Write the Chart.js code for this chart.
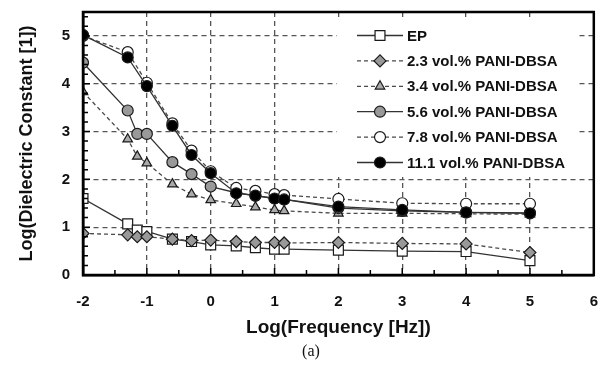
<!DOCTYPE html>
<html>
<head>
<meta charset="utf-8">
<script src="https://cdn.jsdelivr.net/npm/chart.js@4.4.1/dist/chart.umd.min.js"></script>
<style>
  html,body{margin:0;padding:0;background:#fff;}
  #wrap{position:relative;width:602px;height:372px;}
  #cap{position:absolute;left:286px;width:50px;top:342px;text-align:center;
       font:16px "Liberation Serif","Times New Roman",serif;color:#111;}
</style>
</head>
<body>
<div id="wrap">
  <canvas id="c" width="602" height="372"></canvas>
  <div id="cap">(a)</div>
</div>
<script>
// log10 of frequency; the two highest loadings were not measured at -1.15
const logF_a = [-2, -1.3, -1.15, -1, -0.6, -0.3, 0, 0.4, 0.7, 1, 1.15, 2, 3, 4, 5];
const logF_b = [-2, -1.3, -1, -0.6, -0.3, 0, 0.4, 0.7, 1, 1.15, 2, 3, 4, 5];

const ep     = [1.60, 1.07, 0.94, 0.91, 0.75, 0.70, 0.63, 0.61, 0.57, 0.54, 0.54, 0.52, 0.50, 0.49, 0.30];
const pani23 = [0.87, 0.84, 0.80, 0.80, 0.75, 0.72, 0.73, 0.70, 0.68, 0.68, 0.67, 0.68, 0.66, 0.65, 0.47];
const pani34 = [3.83, 2.84, 2.48, 2.34, 1.90, 1.69, 1.57, 1.49, 1.42, 1.36, 1.34, 1.29, 1.29, 1.28, 1.27];
const pani56 = [4.44, 3.44, 2.95, 2.95, 2.36, 2.11, 1.85, 1.72, 1.66, 1.60, 1.58, 1.40, 1.34, 1.31, 1.30];
const pani78 = [5.00, 4.66, 4.02, 3.17, 2.60, 2.17, 1.82, 1.76, 1.69, 1.67, 1.59, 1.50, 1.49, 1.49];
const pani111= [5.02, 4.55, 3.95, 3.12, 2.51, 2.13, 1.71, 1.66, 1.60, 1.58, 1.43, 1.36, 1.31, 1.29];

const labels = ['EP', '2.3 vol.% PANI-DBSA', '3.4 vol.% PANI-DBSA', '5.6 vol.% PANI-DBSA',
                '7.8 vol.% PANI-DBSA', '11.1 vol.% PANI-DBSA'];

const FONT = '"Liberation Sans", Arial, sans-serif';
const pts = (xs, ys) => xs.map((x,i)=>({x, y: ys[i]}));

function series(i, xs, ys, style, radius, fill, dashed){
  return {
    label: labels[i], data: pts(xs, ys), showLine: true, order: 10 - i,
    borderColor: dashed ? '#4a4a4a' : '#333', borderWidth: 1.3,
    borderDash: dashed ? [4,3] : [],
    pointStyle: style, pointRadius: radius, pointHoverRadius: radius,
    pointBackgroundColor: fill, pointBorderColor: '#1a1a1a', pointBorderWidth: 1.2,
    tension: 0
  };
}

const datasets = [
  series(0, logF_a, ep,     'rect',     7,   '#fff', false),
  series(1, logF_a, pani23, 'rectRot',  6,   '#999', true),
  series(2, logF_a, pani34, 'triangle', 5.5, '#aaa', true),
  series(3, logF_a, pani56, 'circle',   5.5, '#999', false),
  series(4, logF_b, pani78, 'circle',   5.5, '#fff', true),
  series(5, logF_b, pani111,'circle',   5.5, '#000', false)
];

// in-plot legend, inward minor ticks and the frame
const extras = {
  id: 'extras',
  afterDatasetsDraw(chart){
    const {ctx, chartArea: a, scales:{x, y}} = chart;
    ctx.save();

    ctx.fillStyle = '#fff';
    ctx.fillRect(337, 21, 240, 156);
    datasets.forEach((d, i)=>{
      const cy = 35.5 + i * 25.4;
      ctx.strokeStyle = d.borderColor; ctx.lineWidth = 1.3;
      ctx.setLineDash(d.borderDash);
      ctx.beginPath(); ctx.moveTo(357, cy); ctx.lineTo(403, cy); ctx.stroke();
      ctx.setLineDash([]);
      ctx.fillStyle = d.pointBackgroundColor; ctx.strokeStyle = d.pointBorderColor;
      ctx.lineWidth = d.pointBorderWidth;
      Chart.helpers.drawPoint(ctx, {pointStyle: d.pointStyle, radius: d.pointRadius, rotation: 0, borderWidth: 1.2}, 380, cy);
      ctx.fillStyle = '#111';
      ctx.font = 'bold 15px ' + FONT;
      ctx.textBaseline = 'middle'; ctx.textAlign = 'left';
      ctx.fillText(d.label, 407, cy + 1);
    });

    ctx.strokeStyle = '#000';
    ctx.lineWidth = 1.5;
    ctx.beginPath();
    for (let k = 0; k <= 16; k++){
      const px = x.getPixelForValue(-2 + k * 0.5), len = k % 2 === 0 ? 7 : 5;
      ctx.moveTo(px, a.bottom); ctx.lineTo(px, a.bottom - len);
    }
    for (let k = 0; k <= 27; k++){
      const py = y.getPixelForValue(k * 0.2), len = k % 5 === 0 ? 7 : 5;
      ctx.moveTo(a.left, py); ctx.lineTo(a.left + len, py);
    }
    ctx.stroke();
    ctx.lineWidth = 2.5;
    ctx.strokeRect(a.left, a.top, a.right - a.left, a.bottom - a.top);
    ctx.restore();
  }
};

const noEdgePad = s => { s.paddingLeft = 0; s.paddingRight = 0; s.paddingTop = 0; s.paddingBottom = 0; };

new Chart(document.getElementById('c'), {
  type: 'scatter',
  data: { datasets },
  options: {
    responsive: false, animation: false, devicePixelRatio: 1,
    layout: { padding: { left: 0, right: 7, top: 12, bottom: 0 } },
    plugins: { legend: { display: false }, tooltip: { enabled: false } },
    scales: {
      x: {
        type: 'linear', min: -2, max: 6,
        ticks: { stepSize: 1, padding: 18, color: '#111', font: { family: FONT, weight: 'bold', size: 15 } },
        grid: { color: '#555', lineWidth: 1.3, drawTicks: false },
        border: { color: '#000', width: 2.5, dash: [5,4] },
        title: { display: true, text: 'Log(Frequency [Hz])', color: '#111',
                 font: { family: FONT, weight: 'bold', size: 19 }, padding: { top: 0, bottom: 33 } },
        afterFit: s => { s.height = 97; noEdgePad(s); }
      },
      y: {
        type: 'linear', min: 0, max: 5.5,
        ticks: { stepSize: 1, includeBounds: false, padding: 13, color: '#111', font: { family: FONT, weight: 'bold', size: 15 } },
        grid: { color: '#555', lineWidth: 1.3, drawTicks: false },
        border: { color: '#000', width: 2.5, dash: [5,4] },
        title: { display: true, text: 'Log(Dielectric Constant [1])', color: '#111',
                 font: { family: FONT, weight: 'bold', size: 18 }, padding: { top: 16, bottom: 0 } },
        afterFit: s => { s.width = 83; noEdgePad(s); }
      }
    }
  },
  plugins: [extras]
});
</script>
</body>
</html>
